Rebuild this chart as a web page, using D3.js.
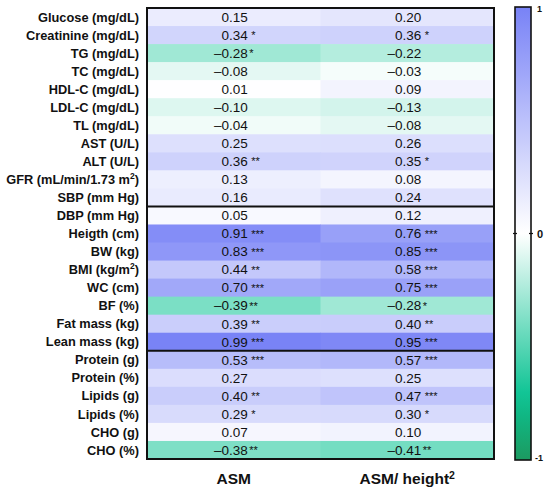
<!DOCTYPE html>
<html>
<head>
<meta charset="utf-8">
<script src="https://cdn.jsdelivr.net/npm/d3@7"></script>
<style>
  body { margin: 0; background: #fff; }
  svg { display: block; font-family: Arial, 'Liberation Sans', sans-serif; }
</style>
</head>
<body>
<svg id="chart" width="550" height="489"></svg>
<script>
// row labels (top to bottom); superscript "2" marked with ^2
const rowLabels = [
  'Glucose (mg/dL)', 'Creatinine (mg/dL)', 'TG (mg/dL)', 'TC (mg/dL)',
  'HDL-C (mg/dL)', 'LDL-C (mg/dL)', 'TL (mg/dL)', 'AST (U/L)', 'ALT (U/L)',
  'GFR (mL/min/1.73 m^2)', 'SBP (mm Hg)', 'DBP (mm Hg)', 'Heigth (cm)',
  'BW (kg)', 'BMI (kg/m^2)', 'WC (cm)', 'BF (%)', 'Fat mass (kg)',
  'Lean mass (kg)', 'Protein (g)', 'Protein (%)', 'Lipids (g)',
  'Lipids (%)', 'CHO (g)', 'CHO (%)'
];
const columns = ['ASM', 'ASM/ height^2'];

const asmValues = [0.15, 0.34, -0.28, -0.08, 0.01, -0.10, -0.04, 0.25, 0.36,
  0.13, 0.16, 0.05, 0.91, 0.83, 0.44, 0.70, -0.39, 0.39, 0.99, 0.53, 0.27,
  0.40, 0.29, 0.07, -0.38];
const asmStars = ['', '*', '*', '', '', '', '', '', '**', '', '', '', '***',
  '***', '**', '***', '**', '**', '***', '***', '', '**', '*', '', '**'];

const asmHeightValues = [0.20, 0.36, -0.22, -0.03, 0.09, -0.13, -0.08, 0.26,
  0.35, 0.08, 0.24, 0.12, 0.76, 0.85, 0.58, 0.75, -0.28, 0.40, 0.95, 0.57,
  0.25, 0.47, 0.30, 0.10, -0.41];
const asmHeightStars = ['', '*', '', '', '', '', '', '', '*', '', '', '',
  '***', '***', '***', '***', '*', '**', '***', '***', '', '***', '*', '', '**'];

// group separators drawn after these rows
const groupBreaks = ['SBP (mm Hg)', 'Lean mass (kg)'];

const legendTicks = [-1, 0, 1];

const svg = d3.select('#chart');

const marginLeft = 147;
const gridRight = 494;
const marginTop = 8;
const gridBottom = 459;

const xScale = d3.scaleBand()
  .domain(columns)
  .range([marginLeft, gridRight]);

const yScale = d3.scaleBand()
  .domain(rowLabels)
  .range([marginTop, gridBottom]);

const color = d3.scaleLinear()
  .domain([-1, -0.72, 0, 1])
  .range(['#1c9a60', '#0bc393', '#ffffff', '#7882f6'])
  .interpolate(d3.interpolateRgb)
  .clamp(true);

const cells = [];
rowLabels.forEach((r, i) => {
  cells.push({ row: r, col: columns[0], v: asmValues[i], s: asmStars[i] });
  cells.push({ row: r, col: columns[1], v: asmHeightValues[i], s: asmHeightStars[i] });
});

// cells
svg.append('g').attr('class', 'cells')
  .selectAll('rect')
  .data(cells)
  .enter()
  .append('rect')
  .attr('x', d => xScale(d.col))
  .attr('y', d => yScale(d.row))
  .attr('width', xScale.bandwidth() + 0.5)
  .attr('height', yScale.bandwidth() + 0.5)
  .attr('fill', d => color(d.v));

// values, right aligned a little past the centre, stars after
const fmt = v => (v < 0 ? '\u2013' : '') + Math.abs(v).toFixed(2);
const numEnd = d => xScale(d.col) + xScale.bandwidth() / 2 + 14;

const labelsG = svg.append('g').attr('class', 'values');
labelsG.selectAll('text.num')
  .data(cells)
  .enter()
  .append('text')
  .attr('class', 'num')
  .attr('x', numEnd)
  .attr('y', d => yScale(d.row) + yScale.bandwidth() / 2 + 4.8)
  .attr('text-anchor', 'end')
  .attr('font-size', 13.5)
  .attr('fill', '#111')
  .text(d => fmt(d.v));

labelsG.selectAll('text.star')
  .data(cells.filter(d => d.s))
  .enter()
  .append('text')
  .attr('class', 'star')
  .attr('x', d => numEnd(d) + (d.v < 0 ? 1.5 : 3.5))
  .attr('y', d => yScale(d.row) + yScale.bandwidth() / 2 + 4)
  .attr('font-size', 11)
  .attr('fill', '#111')
  .text(d => d.s);

// helper for labels with ^2 superscript
function writeLabel(sel, txt, supSize) {
  const parts = txt.split('^2');
  sel.append('tspan').text(parts[0]);
  if (parts.length > 1) {
    sel.append('tspan').attr('font-size', supSize).attr('dy', -5).text('2');
    sel.append('tspan').attr('dy', 5).text(parts[1]);
  }
}

// row labels
svg.append('g').attr('class', 'row-labels')
  .selectAll('text')
  .data(rowLabels)
  .enter()
  .append('text')
  .attr('x', 139)
  .attr('y', d => yScale(d) + yScale.bandwidth() / 2 + 4.6)
  .attr('text-anchor', 'end')
  .attr('font-size', 12.8)
  .attr('font-weight', 'bold')
  .attr('fill', '#111')
  .each(function (d) { writeLabel(d3.select(this), d, 8.5); });

// column labels
svg.append('g').attr('class', 'col-labels')
  .selectAll('text')
  .data(columns)
  .enter()
  .append('text')
  .attr('x', d => xScale(d) + xScale.bandwidth() / 2)
  .attr('y', 484)
  .attr('text-anchor', 'middle')
  .attr('font-size', 15.5)
  .attr('font-weight', 'bold')
  .attr('fill', '#111')
  .each(function (d) { writeLabel(d3.select(this), d, 10.5); });

// group separators and frame
svg.append('g').attr('class', 'breaks')
  .selectAll('line')
  .data(groupBreaks)
  .enter()
  .append('line')
  .attr('x1', marginLeft)
  .attr('x2', gridRight)
  .attr('y1', d => yScale(d) + yScale.bandwidth())
  .attr('y2', d => yScale(d) + yScale.bandwidth())
  .attr('stroke', '#111')
  .attr('stroke-width', 2);

svg.append('rect')
  .attr('x', marginLeft)
  .attr('y', marginTop)
  .attr('width', gridRight - marginLeft)
  .attr('height', gridBottom - marginTop)
  .attr('fill', 'none')
  .attr('stroke', '#111')
  .attr('stroke-width', 2);

// colour legend
const legendX = 515;
const legendW = 16;
const legendScale = d3.scaleLinear()
  .domain([-1, 1])
  .range([460, 7]);

const grad = svg.append('defs').append('linearGradient')
  .attr('id', 'legend-grad')
  .attr('x1', 0).attr('y1', 1).attr('x2', 0).attr('y2', 0);
d3.range(0, 1.0001, 0.05).forEach(t => {
  grad.append('stop')
    .attr('offset', t)
    .attr('stop-color', color(-1 + 2 * t));
});

svg.append('rect')
  .attr('x', legendX)
  .attr('y', legendScale(1))
  .attr('width', legendW)
  .attr('height', legendScale(-1) - legendScale(1))
  .attr('fill', 'url(#legend-grad)')
  .attr('stroke', '#111')
  .attr('stroke-width', 1.6);

const legendAxis = svg.append('g').attr('class', 'legend-axis');
legendAxis.selectAll('text')
  .data(legendTicks)
  .enter()
  .append('text')
  .attr('x', d => d < 0 ? 535 : 537)
  .attr('y', d => d === 1 ? legendScale(d) + 5 : d === -1 ? legendScale(d) + 1 : legendScale(d) + 4)
  .attr('font-size', d => d === 0 ? 11 : 9)
  .attr('font-weight', 'bold')
  .attr('fill', '#111')
  .text(d => d);

// small tick at zero on both edges
[legendX, legendX + legendW].forEach(x => {
  legendAxis.append('line')
    .attr('x1', x - 2).attr('x2', x + 2)
    .attr('y1', legendScale(0)).attr('y2', legendScale(0))
    .attr('stroke', '#111')
    .attr('stroke-width', 1.2);
});
</script>
</body>
</html>
